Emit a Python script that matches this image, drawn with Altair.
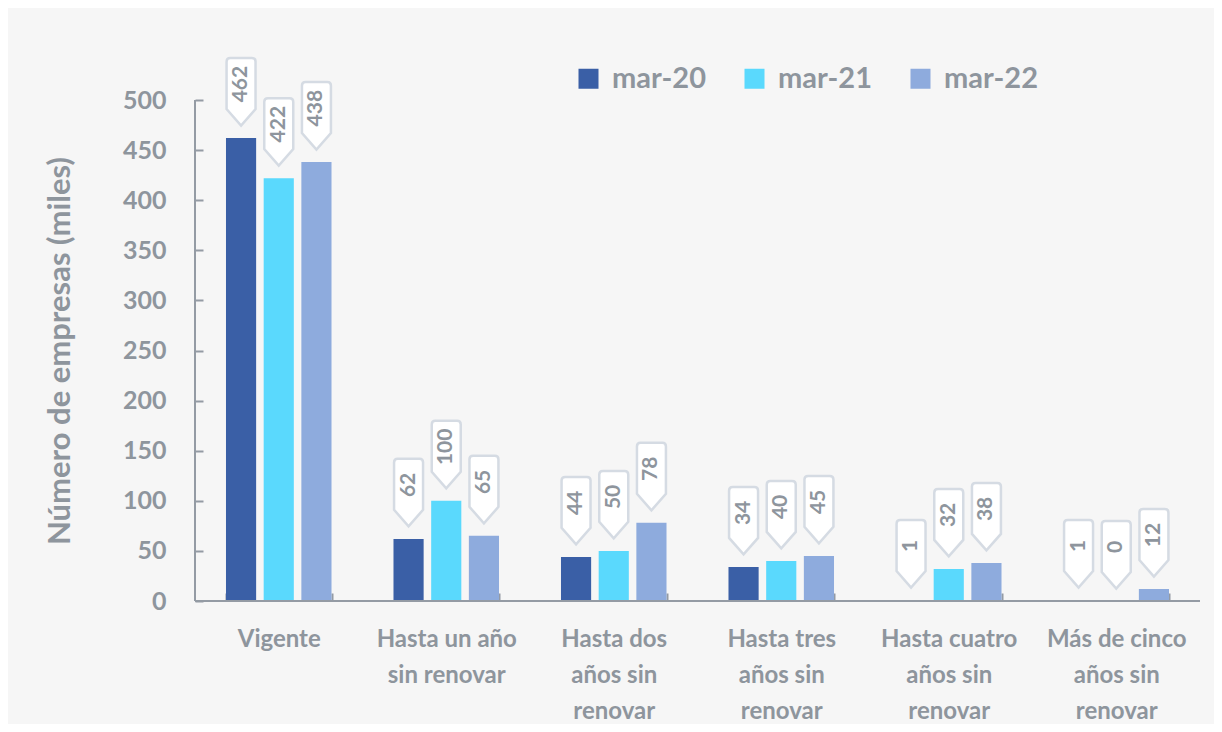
import altair as alt
import pandas as pd

categories = [
    "Vigente",
    "Hasta un año\nsin renovar",
    "Hasta dos\naños sin\nrenovar",
    "Hasta tres\naños sin\nrenovar",
    "Hasta cuatro\naños sin\nrenovar",
    "Más de cinco\naños sin\nrenovar",
]
series = ["mar-20", "mar-21", "mar-22"]
values_mar20 = [462, 62, 44, 34, 1, 1]
values_mar21 = [422, 100, 50, 40, 32, 0]
values_mar22 = [438, 65, 78, 45, 38, 12]
colors = ["#3a5fa6", "#5ad9fd", "#8eabdd"]
y_ticks = [0, 50, 100, 150, 200, 250, 300, 350, 400, 450, 500]

rows = []
for s, vals in zip(series, [values_mar20, values_mar21, values_mar22]):
    for c, v in zip(categories, vals):
        rows.append({"cat": c, "serie": s, "value": v})
df = pd.DataFrame(rows)

GRAY = "#8e959d"
AXIS = "#949ba4"
FONT = "Lato"

# callout shape (units of 35px, drawn above the anchor point)
callout = ("M -0.31 -2.286 L 0.31 -2.286 Q 0.414 -2.286 0.414 -2.18 "
           "L 0.414 -0.829 L 0 -0.357 L -0.414 -0.829 L -0.414 -2.18 "
           "Q -0.414 -2.286 -0.31 -2.286 Z")

base = alt.Chart(df).encode(
    x=alt.X(
        "cat:N",
        sort=categories,
        title=None,
        scale=alt.Scale(paddingInner=0.37, paddingOuter=0.185),
        axis=alt.Axis(
            labelExpr="split(datum.label, '\\n')",
            labelAngle=0,
            labelFont=FONT,
            labelFontSize=24,
            labelFontWeight="bold",
            labelColor=GRAY,
            labelLineHeight=36,
            labelPadding=26,
            labelBaseline="top",
            tickBand="extent",
            tickSize=8,
            tickColor=AXIS,
            tickWidth=2,
            offset=-8,
            domain=False,
        ),
    ),
    xOffset=alt.XOffset(
        "serie:N", sort=series, scale=alt.Scale(paddingInner=0.2, paddingOuter=0)
    ),
    y=alt.Y(
        "value:Q",
        scale=alt.Scale(domain=[0, 500], nice=False),
        title="Número de empresas (miles)",
        axis=alt.Axis(
            values=y_ticks,
            grid=False,
            domain=False,
            offset=-8,
            tickSize=8,
            tickColor=AXIS,
            tickWidth=2,
            labelFont=FONT,
            labelFontSize=25,
            labelFontWeight="bold",
            labelColor=GRAY,
            labelPadding=29,
            titleFont=FONT,
            titleFontSize=31,
            titleFontWeight="bold",
            titleColor=GRAY,
            titlePadding=46,
        ),
    ),
)

bars = base.mark_bar().encode(
    color=alt.Color(
        "serie:N",
        sort=series,
        scale=alt.Scale(domain=series, range=colors),
        legend=alt.Legend(
            title=None,
            orient="none",
            legendX=379,
            legendY=-36,
            direction="horizontal",
            symbolType="square",
            symbolSize=400,
            symbolStrokeWidth=0,
            labelFont=FONT,
            labelFontSize=29,
            labelFontWeight="bold",
            labelColor=GRAY,
            labelOffset=9,
            columnPadding=34,
        ),
    )
)

bubbles = base.mark_point(
    shape=callout,
    size=4900,
    filled=True,
    fill="white",
    stroke="#d5dbe3",
    strokeWidth=2.5,
    opacity=1,
    clip=False,
)

labels = base.mark_text(
    angle=270,
    align="center",
    baseline="middle",
    dx=54,
    font=FONT,
    fontSize=21,
    fontWeight="bold",
    color=GRAY,
).encode(text="value:Q")

ydomain = alt.Chart(pd.DataFrame({"v": [0]})).mark_rule(
    color=AXIS, strokeWidth=2
).encode(x=alt.value(0))
xdomain = alt.Chart(pd.DataFrame({"v": [0]})).mark_rule(
    color=AXIS, strokeWidth=2
).encode(y=alt.Y("v:Q"))

chart = (
    alt.layer(bars, ydomain, xdomain, bubbles, labels)
    .properties(
        width=1005,
        height=501,
        background="#f6f6f6",
        padding={"left": 187, "top": 92, "right": 14, "bottom": 123},
        autosize=alt.AutoSizeParams(type="none"),
    )
    .configure_view(stroke=None)
)

chart.save("out.html", embed_options={"renderer": "svg", "actions": False})
